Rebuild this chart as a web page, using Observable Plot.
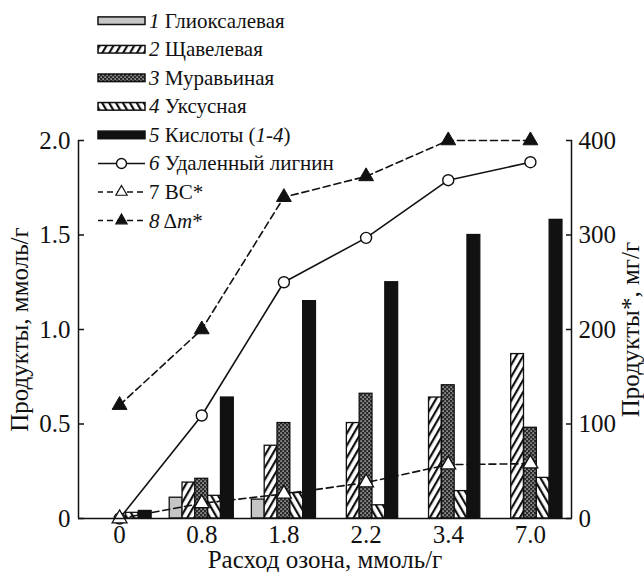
<!DOCTYPE html>
<html><head><meta charset="utf-8">
<script src="https://cdn.jsdelivr.net/npm/d3@7"></script>
<script src="https://cdn.jsdelivr.net/npm/@observablehq/plot@0.6"></script>
<style>
body{margin:0;background:#fff;}
</style></head><body>
<div id="c"></div>
<script>
// ---- data ----
const ozone = ["0", "0.8", "1.8", "2.2", "3.4", "7.0"];           // Расход озона, ммоль/г
const glyoxylic = [0, 0.11, 0.10, 0, 0, 0];                         // 1 Глиоксалевая
const oxalic    = [0, 0.19, 0.385, 0.505, 0.64, 0.87];              // 2 Щавелевая
const formic    = [0, 0.21, 0.505, 0.66, 0.705, 0.48];              // 3 Муравьиная
const acetic    = [0.03, 0.12, 0.135, 0.07, 0.145, 0.215];          // 4 Уксусная
const acidsSum  = [0.04, 0.64, 1.15, 1.25, 1.50, 1.58];             // 5 Кислоты (1-4)
const lignin    = [0, 109, 250, 297, 358, 377];                     // 6 Удаленный лигнин, мг/г
const bcVals    = [0, 16, 26, 38, 57, 58];                          // 7 ВС*, мг/г
const dmVals    = [120, 200, 340, 362, 400, 400];                   // 8 Δm*, мг/г
const leftTicks = [0, 0.5, 1.0, 1.5, 2.0];
const leftTickLabels = ["0", "0.5", "1.0", "1.5", "2.0"];
const rightTickLabels = ["0", "100", "200", "300", "400"];
const legendNums = ["1", "2", "3", "4", "5", "6", "7", "8"];
const legendNames = ["Глиоксалевая", "Щавелевая", "Муравьиная", "Уксусная", "Кислоты", "Удаленный лигнин", "ВС*", "Δm*"];

// ---- layout ----
const W = 644, H = 572;
const mL = 78, mR = 73, mT = 140, mB = 54;
const bw = 0.156;       // bar width in category units
const rightK = 200;     // mg/g per mmol/g (400 ↔ 2.0)
const FONT = "Liberation Serif";

const barSeries = [
  {values: glyoxylic, fill: "#c6c6c6"},
  {values: oxalic, fill: "url(#p-oxalic)"},
  {values: formic, fill: "url(#p-formic)"},
  {values: acetic, fill: "url(#p-acetic)"},
  {values: acidsSum, fill: "#111"}
];
const rowsOf = (vals, si) => vals.map((v, i) => ({i, si, v})).filter(d => d.v > 0);
const ptsOf = vals => vals.map((v, i) => ({i, y: v / rightK}));

const marks = [];
barSeries.forEach((s, si) => {
  marks.push(Plot.rectY(rowsOf(s.values, si), {
    x1: d => d.i + (d.si - 2.5) * bw,
    x2: d => d.i + (d.si - 1.5) * bw,
    y1: 0, y2: "v",
    fill: s.fill, stroke: "#111", strokeWidth: 1.3
  }));
});
marks.push(
  Plot.line(ptsOf(dmVals), {x: "i", y: "y", stroke: "#111", strokeWidth: 1.6, strokeDasharray: "7,4"}),
  Plot.line(ptsOf(bcVals), {x: "i", y: "y", stroke: "#111", strokeWidth: 1.6, strokeDasharray: "7,4"}),
  Plot.line(ptsOf(lignin), {x: "i", y: "y", stroke: "#111", strokeWidth: 1.6}),
  Plot.dot(ptsOf(lignin), {x: "i", y: "y", r: 5.5, fill: "white", stroke: "#111", strokeWidth: 1.4}),
  Plot.dot(ptsOf(bcVals), {x: "i", y: "y", symbol: "triangle", r: 5.5, fill: "white", stroke: "#111", strokeWidth: 1.3}),
  Plot.dot(ptsOf(dmVals), {x: "i", y: "y", symbol: "triangle", r: 5.5, fill: "#111", stroke: "#111", strokeWidth: 1})
);
marks.push(
  Plot.ruleY([0], {stroke: "#111", strokeWidth: 1.5}),
  Plot.ruleX([-0.5, 5.5], {stroke: "#111", strokeWidth: 1.5})
);
marks.push(
  Plot.axisX(d3.range(ozone.length), {tickFormat: i => ozone[i], tickSize: 0, tickPadding: 7, fontFamily: FONT,
    label: "Расход озона, ммоль/г", labelAnchor: "center", labelArrow: "none", labelOffset: 49}),
  Plot.axisY(leftTicks, {anchor: "left", tickFormat: (d, i) => leftTickLabels[i], tickSize: 0, tickPadding: 8, fontFamily: FONT,
    label: "Продукты, ммоль/г", labelAnchor: "center", labelArrow: "none", labelOffset: 68}),
  Plot.axisY(leftTicks, {anchor: "left", tickFormat: () => "", tickSize: 6, dx: 6, label: null, stroke: "#111", strokeWidth: 1.5}),
  Plot.axisY(leftTicks, {anchor: "right", tickFormat: (d, i) => rightTickLabels[i], tickSize: 0, tickPadding: 7, fontFamily: FONT,
    label: "Продукты*, мг/г", labelAnchor: "center", labelArrow: "none", labelOffset: 67}),
  Plot.axisY(leftTicks, {anchor: "right", tickFormat: () => "", tickSize: 6, dx: -6, label: null, stroke: "#111", strokeWidth: 1.5})
);

const chart = Plot.plot({
  width: W, height: H,
  marginLeft: mL, marginRight: mR, marginTop: mT, marginBottom: mB,
  x: {type: "linear", domain: [-0.5, 5.5], axis: null},
  y: {type: "linear", domain: [0, 2], axis: null},
  style: {fontFamily: FONT, fontSize: "25px", color: "#111", background: "white", overflow: "visible"},
  marks
});
d3.select(chart).selectAll("text").attr("font-family", FONT);

// patterns
const defs = d3.select(chart).insert("defs", ":first-child");
function hatch(id, angle) {
  const p = defs.append("pattern").attr("id", id).attr("patternUnits", "userSpaceOnUse")
    .attr("width", 6).attr("height", 6).attr("patternTransform", `rotate(${angle})`);
  p.append("rect").attr("width", 6).attr("height", 6).attr("fill", "white");
  p.append("rect").attr("x", 0).attr("y", 0).attr("width", 2.2).attr("height", 6).attr("fill", "#111");
}
hatch("p-oxalic", 30);
hatch("p-acetic", -30);
{
  const p = defs.append("pattern").attr("id", "p-formic").attr("patternUnits", "userSpaceOnUse")
    .attr("width", 4).attr("height", 4);
  p.append("rect").attr("width", 4).attr("height", 4).attr("fill", "#2a2a2a");
  p.append("rect").attr("x", 0.5).attr("y", 0.5).attr("width", 1.2).attr("height", 1.2).attr("fill", "#fff");
  p.append("rect").attr("x", 2.5).attr("y", 2.5).attr("width", 1.2).attr("height", 1.2).attr("fill", "#fff");
}
document.getElementById("c").appendChild(chart);

// legend overlay (own svg, placed over the top-left of the chart)
const lg = d3.select("body").append("svg").attr("width", 380).attr("height", 236)
  .style("position", "absolute").style("left", "0px").style("top", "0px");
const rowY = k => 20.7 + 28.55 * k;
const sx0 = 98, sx1 = 145, tx = 149;
barSeries.forEach((s, k) => {
  lg.append("rect").attr("x", sx0).attr("y", rowY(k) - 3.8).attr("width", sx1 - sx0).attr("height", 7.6)
    .attr("fill", s.fill).attr("stroke", "#111").attr("stroke-width", 1.5);
});
const lineItems = [
  {dash: null, sym: "circle", fill: "white"},
  {dash: "6,4", sym: "triangle", fill: "white"},
  {dash: "6,4", sym: "triangle", fill: "#111"}
];
lineItems.forEach((it, j) => {
  const k = 5 + j, y = rowY(k);
  const ln = lg.append("line").attr("x1", sx0).attr("x2", sx1).attr("y1", y).attr("y2", y)
    .attr("stroke", "#111").attr("stroke-width", 1.6);
  if (it.dash) ln.attr("stroke-dasharray", it.dash).attr("stroke-dashoffset", 1);
  const cx = (sx0 + sx1) / 2;
  if (it.sym === "circle") {
    lg.append("circle").attr("cx", cx).attr("cy", y).attr("r", 5).attr("fill", "white").attr("stroke", "#111").attr("stroke-width", 1.4);
  } else {
    lg.append("path").attr("d", d3.symbol(d3.symbolTriangle, 55)()).attr("transform", `translate(${cx},${y})`)
      .attr("fill", it.fill).attr("stroke", "#111").attr("stroke-width", 1.2);
  }
});
legendNames.forEach((name, k) => {
  const t = lg.append("text").attr("x", tx).attr("y", rowY(k) + 7).attr("fill", "#111")
    .attr("font-family", FONT).attr("font-size", 21);
  t.append("tspan").attr("font-style", k === 6 ? "normal" : "italic").text(legendNums[k]);
  if (k === 4) {
    t.append("tspan").text(" " + name + " (");
    t.append("tspan").attr("font-style", "italic").text("1-4");
    t.append("tspan").text(")");
  } else if (k === 7) {
    t.append("tspan").text(" Δ");
    t.append("tspan").attr("font-style", "italic").text("m");
    t.append("tspan").text("*");
  } else {
    t.append("tspan").text(" " + name);
  }
});
</script></body></html>
